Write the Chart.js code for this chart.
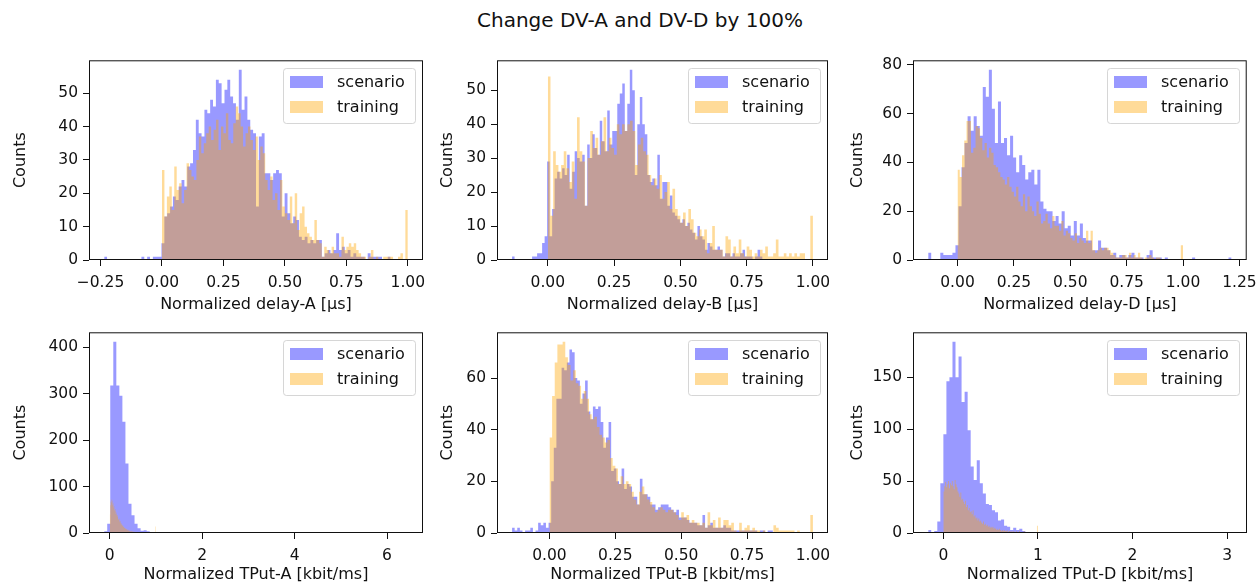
<!DOCTYPE html>
<html>
<head>
<meta charset="utf-8">
<script src="https://cdn.jsdelivr.net/npm/chart.js@4.4.0/dist/chart.umd.min.js"></script>
<style>
  html, body { margin: 0; padding: 0; background: #fff; }
  body { width: 1258px; height: 584px; position: relative; overflow: hidden; font-family: 'DejaVu Sans', sans-serif; }
  #suptitle { position: absolute; top: 8px; left: 0; width: 1280px; line-height: 24px; text-align: center; font-size: 20px; color: #111; }
  canvas { position: absolute; }
</style>
</head>
<body>
<div id="suptitle">Change DV-A and DV-D by 100%</div>
<canvas id="delayA"></canvas>
<canvas id="delayB"></canvas>
<canvas id="delayD"></canvas>
<canvas id="tputA"></canvas>
<canvas id="tputB"></canvas>
<canvas id="tputD"></canvas>
<script>
// Histogram counts per bin, 100 equal bins over each series' range.
const trainingRange = [0, 1];

const delayAScenarioRange = [-0.235, 0.93];
const delayAScenario = [
  1, 0, 0, 0, 0, 0, 0, 0, 0, 0,
  0, 0, 0, 1, 0, 1, 0, 1, 1, 1,
  5, 13, 14, 16, 19, 18, 22, 24, 22, 28,
  29, 33, 42, 38, 37, 45, 44, 48, 46, 54,
  53, 47, 51, 54, 49, 47, 42, 57, 45, 49,
  42, 39, 38, 16, 37, 38, 26, 26, 24, 26,
  27, 26, 13, 20, 14, 11, 13, 12, 7, 6,
  7, 5, 6, 5, 6, 6, 1, 2, 3, 2,
  3, 8, 3, 4, 2, 3, 1, 2, 1, 1,
  1, 0, 2, 1, 1, 1, 1, 0, 0, 1
];
const delayATraining = [
  27, 13, 19, 22, 15, 28, 21, 23, 17, 21,
  29, 27, 25, 24, 30, 37, 32, 35, 38, 40,
  36, 39, 42, 33, 40, 38, 44, 36, 35, 41,
  46, 44, 40, 34, 38, 40, 36, 33, 37, 30,
  34, 32, 24, 21, 25, 18, 20, 15, 24, 16,
  14, 12, 19, 11, 20, 9, 14, 16, 10, 8,
  7, 6, 12, 6, 5, 1, 4, 3, 2, 4,
  2, 2, 1, 7, 3, 4, 5, 4, 5, 3,
  2, 1, 1, 0, 1, 3, 0, 1, 0, 0,
  1, 1, 1, 1, 0, 0, 1, 2, 0, 15
];

const delayBScenarioRange = [-0.135, 0.81];
const delayBScenario = [
  1, 0, 0, 0, 0, 0, 0, 0, 1, 1,
  2, 2, 5, 7, 29, 7, 15, 24, 26, 24,
  27, 25, 31, 21, 26, 32, 30, 29, 31, 16,
  34, 30, 37, 33, 31, 41, 35, 32, 44, 34,
  38, 38, 46, 49, 52, 38, 46, 56, 50, 25,
  40, 48, 40, 37, 25, 23, 24, 22, 31, 18,
  23, 23, 16, 19, 14, 13, 12, 11, 12, 10,
  11, 9, 8, 6, 10, 7, 6, 3, 5, 4,
  3, 3, 4, 3, 1, 2, 2, 1, 2, 1,
  1, 2, 3, 1, 1, 1, 0, 1, 3, 1
];
const delayBTraining = [
  54, 13, 32, 28, 26, 28, 32, 27, 23, 29,
  18, 42, 32, 29, 16, 30, 38, 33, 36, 31,
  35, 42, 32, 36, 33, 31, 40, 37, 40, 38,
  40, 41, 38, 28, 34, 36, 32, 31, 25, 22,
  24, 21, 25, 18, 20, 23, 15, 21, 15, 13,
  11, 14, 10, 15, 12, 8, 7, 9, 7, 9,
  2, 5, 10, 3, 3, 3, 1, 7, 6, 1,
  4, 2, 6, 2, 1, 4, 3, 1, 2, 1,
  3, 2, 4, 1, 1, 2, 6, 1, 1, 2,
  1, 2, 1, 2, 1, 2, 2, 0, 0, 13
];

const delayDScenarioRange = [-0.13, 1.215];
const delayDScenario = [
  3, 0, 0, 0, 3, 2, 2, 2, 3, 6,
  22, 38, 48, 59, 53, 59, 55, 51, 71, 67,
  78, 62, 48, 65, 48, 50, 43, 51, 42, 36,
  43, 39, 33, 36, 37, 31, 37, 24, 21, 20,
  20, 16, 18, 15, 20, 13, 14, 10, 16, 10,
  15, 9, 8, 8, 4, 4, 8, 5, 5, 4,
  2, 3, 1, 2, 2, 1, 2, 3, 1, 1,
  1, 0, 2, 4, 1, 1, 1, 0, 1, 0,
  0, 0, 0, 0, 0, 0, 0, 1, 0, 0,
  0, 0, 0, 0, 0, 0, 0, 0, 0, 1
];
const delayDTraining = [
  37, 34, 43, 49, 57, 57, 44, 46, 55, 54,
  50, 45, 48, 42, 46, 44, 39, 38, 36, 34,
  33, 31, 34, 30, 28, 26, 30, 24, 22, 27,
  20, 26, 22, 20, 18, 24, 19, 15, 16, 19,
  15, 13, 18, 14, 14, 12, 16, 10, 12, 11,
  9, 8, 11, 7, 9, 8, 7, 12, 7, 12,
  4, 3, 4, 5, 4, 5, 5, 4, 3, 2,
  1, 1, 1, 2, 2, 1, 3, 1, 2, 1,
  3, 1, 0, 1, 1, 2, 1, 0, 1, 1,
  0, 0, 0, 0, 0, 0, 0, 0, 0, 6
];

const tputAScenarioRange = [-0.12, 6.45];
const tputAScenario = [
  4, 20, 318, 412, 318, 296, 240, 150, 63, 38,
  20, 10, 5, 6, 4, 2, 1, 0, 0, 0,
  0, 0, 0, 0, 0, 0, 0, 0, 0, 0,
  0, 0, 0, 0, 0, 0, 0, 0, 0, 0,
  0, 0, 0, 0, 0, 0, 0, 0, 0, 0,
  0, 0, 0, 0, 0, 0, 0, 0, 0, 0,
  0, 0, 0, 0, 0, 0, 0, 0, 0, 0,
  0, 0, 0, 0, 0, 0, 0, 0, 0, 0,
  0, 0, 0, 0, 0, 0, 0, 0, 0, 0,
  0, 0, 0, 0, 0, 0, 0, 0, 0, 1
];
const tputATraining = [
  40, 60, 68, 72, 66, 70, 61, 64, 55, 58,
  50, 47, 52, 41, 44, 38, 35, 39, 30, 28,
  31, 25, 22, 26, 19, 21, 17, 15, 18, 13,
  14, 11, 12, 9, 10, 8, 9, 7, 6, 8,
  5, 6, 4, 5, 4, 3, 5, 3, 2, 4,
  3, 2, 3, 2, 1, 2, 2, 1, 2, 1,
  1, 2, 1, 0, 1, 1, 0, 1, 1, 0,
  1, 0, 1, 0, 1, 0, 0, 1, 0, 1,
  0, 0, 1, 0, 0, 1, 0, 0, 0, 1,
  0, 0, 0, 0, 1, 0, 0, 0, 0, 14
];

const tputBScenarioRange = [-0.142, 0.848];
const tputBScenario = [
  2, 1, 2, 1, 0, 1, 1, 2, 0, 1,
  4, 3, 4, 2, 4, 20, 33, 52, 52, 64,
  63, 66, 71, 70, 60, 59, 50, 54, 59, 47,
  44, 49, 48, 49, 43, 33, 37, 43, 24, 25,
  20, 19, 25, 17, 19, 18, 14, 14, 11, 21,
  15, 15, 14, 11, 11, 9, 10, 11, 11, 11,
  10, 9, 8, 9, 6, 6, 6, 5, 4, 4,
  4, 3, 3, 7, 2, 3, 4, 2, 2, 2,
  2, 3, 2, 2, 1, 1, 1, 1, 1, 1,
  1, 1, 1, 1, 0, 1, 1, 0, 1, 1
];
const tputBTraining = [
  37, 53, 66, 73, 73, 74, 68, 65, 59, 63,
  58, 57, 52, 55, 52, 46, 44, 45, 41, 38,
  37, 35, 36, 29, 26, 25, 19, 22, 19, 20,
  19, 16, 13, 11, 16, 18, 15, 13, 12, 10,
  8, 9, 10, 9, 8, 9, 9, 8, 7, 5,
  8, 6, 7, 4, 5, 4, 4, 3, 4, 2,
  8, 3, 5, 2, 6, 2, 5, 5, 3, 4,
  1, 0, 4, 1, 2, 3, 1, 2, 1, 1,
  0, 1, 0, 0, 0, 3, 2, 1, 1, 1,
  1, 1, 1, 0, 1, 0, 0, 0, 0, 7
];

const tputDScenarioRange = [-0.16, 3.05];
const tputDScenario = [
  3, 1, 2, 11, 48, 95, 146, 150, 184, 150,
  170, 126, 136, 99, 64, 51, 70, 48, 38, 28,
  27, 22, 20, 12, 13, 7, 6, 3, 5, 3,
  4, 2, 1, 1, 1, 0, 1, 0, 0, 0,
  0, 0, 0, 0, 0, 0, 0, 0, 0, 0,
  0, 0, 0, 0, 0, 0, 0, 0, 0, 0,
  0, 0, 0, 0, 0, 0, 0, 0, 0, 0,
  0, 0, 0, 0, 0, 0, 0, 0, 0, 0,
  0, 0, 0, 0, 0, 0, 0, 0, 0, 0,
  0, 0, 0, 0, 0, 0, 0, 0, 0, 1
];
const tputDTraining = [
  40, 45, 49, 44, 47, 50, 43, 48, 46, 50,
  45, 42, 51, 47, 44, 40, 38, 35, 39, 32,
  33, 30, 28, 31, 25, 27, 22, 24, 20, 21,
  18, 22, 16, 17, 14, 15, 12, 14, 11, 12,
  10, 9, 11, 8, 9, 7, 8, 6, 7, 5,
  6, 5, 6, 4, 5, 4, 3, 4, 3, 4,
  3, 2, 3, 2, 3, 2, 2, 3, 1, 2,
  2, 1, 2, 1, 2, 1, 1, 2, 1, 1,
  2, 1, 0, 1, 1, 2, 0, 1, 1, 0,
  1, 1, 0, 1, 0, 1, 0, 1, 0, 7
];

// Tick positions
const delayATicksX = [-0.25, 0, 0.25, 0.5, 0.75, 1];
const delayBTicksX = [0, 0.25, 0.5, 0.75, 1];
const delayDTicksX = [0, 0.25, 0.5, 0.75, 1, 1.25];
const tputATicksX = [0, 2, 4, 6];
const tputBTicksX = [0, 0.25, 0.5, 0.75, 1];
const tputDTicksX = [0, 1, 2, 3];
const delayATicksY = [0, 10, 20, 30, 40, 50];
const delayBTicksY = [0, 10, 20, 30, 40, 50];
const delayDTicksY = [0, 20, 40, 60, 80];
const tputATicksY = [0, 100, 200, 300, 400];
const tputBTicksY = [0, 20, 40, 60];
const tputDTicksY = [0, 50, 100, 150];

const seriesNames = ['scenario', 'training'];

const BLUE = 'rgba(0, 0, 255, 0.4)';
const ORANGE = 'rgba(255, 165, 0, 0.4)';
const INK = '#111';
const FONT = 'DejaVu Sans';

// space around each plot box inside its canvas
const GUTTER_L = 80, GUTTER_T = 8, GUTTER_R = 14, GUTTER_B = 52;

// box = [left, top, width, height] of the plot area on the page
const panels = [
  { id: 'delayA', box: [89, 60, 334, 200], sc: delayAScenario, scRange: delayAScenarioRange, tr: delayATraining,
    xTicks: delayATicksX, yTicks: delayATicksY, digits: 2, xLabel: 'Normalized delay-A [μs]', yLabelX: 21, xLabelPad: -2 },
  { id: 'delayB', box: [497, 60, 331, 200], sc: delayBScenario, scRange: delayBScenarioRange, tr: delayBTraining,
    xTicks: delayBTicksX, yTicks: delayBTicksY, digits: 2, xLabel: 'Normalized delay-B [μs]', yLabelX: 448, xLabelPad: -2 },
  { id: 'delayD', box: [913, 60, 334, 200], sc: delayDScenario, scRange: delayDScenarioRange, tr: delayDTraining,
    xTicks: delayDTicksX, yTicks: delayDTicksY, digits: 2, xLabel: 'Normalized delay-D [μs]', yLabelX: 858, xLabelPad: -2 },
  { id: 'tputA', box: [89, 332, 334, 201], sc: tputAScenario, scRange: tputAScenarioRange, tr: tputATraining,
    xTicks: tputATicksX, yTicks: tputATicksY, digits: 0, xLabel: 'Normalized TPut-A [kbit/ms]', yLabelX: 21, xLabelPad: 1 },
  { id: 'tputB', box: [497, 332, 331, 201], sc: tputBScenario, scRange: tputBScenarioRange, tr: tputBTraining,
    xTicks: tputBTicksX, yTicks: tputBTicksY, digits: 2, xLabel: 'Normalized TPut-B [kbit/ms]', yLabelX: 448, xLabelPad: 1 },
  { id: 'tputD', box: [913, 332, 334, 201], sc: tputDScenario, scRange: tputDScenarioRange, tr: tputDTraining,
    xTicks: tputDTicksX, yTicks: tputDTicksY, digits: 0, xLabel: 'Normalized TPut-D [kbit/ms]', yLabelX: 858, xLabelPad: 1 }
];

// bin edges -> stepped outline points, closing back to zero after the last bin
function histPoints(counts, range) {
  const width = (range[1] - range[0]) / counts.length;
  const pts = counts.map((c, i) => ({ x: range[0] + i * width, y: c }));
  pts.push({ x: range[1], y: 0 });
  return pts;
}

function tickText(v, digits) {
  const s = Math.abs(v).toFixed(digits);
  return v < 0 ? '\u2212' + s : s;
}

// full box around the plot area (matplotlib spines)
const framePlugin = {
  id: 'frame',
  afterDatasetsDraw(chart) {
    const { ctx, chartArea: a } = chart;
    ctx.save();
    ctx.strokeStyle = INK;
    ctx.lineWidth = 1;
    ctx.strokeRect(a.left + 0.5, a.top + 0.5, a.right - a.left - 1, a.bottom - a.top - 1);
    ctx.restore();
  }
};

// legend box in the upper right corner
const legendPlugin = {
  id: 'cornerLegend',
  afterDraw(chart) {
    const { ctx, chartArea: a } = chart;
    const w = 132, h = 55;
    const x = Math.round(a.right - 8 - w), y = Math.round(a.top + 8);
    ctx.save();
    ctx.beginPath();
    if (ctx.roundRect) ctx.roundRect(x + 0.5, y + 0.5, w, h, 3);
    else ctx.rect(x + 0.5, y + 0.5, w, h);
    ctx.fillStyle = 'rgba(255, 255, 255, 0.8)';
    ctx.fill();
    ctx.strokeStyle = 'rgba(204, 204, 204, 0.8)';
    ctx.lineWidth = 1;
    ctx.stroke();
    ctx.font = '16px "' + FONT + '"';
    ctx.textBaseline = 'middle';
    chart.data.datasets.forEach((ds, i) => {
      const cy = y + 14 + i * 25;
      ctx.fillStyle = ds.backgroundColor;
      ctx.fillRect(x + 7, cy - 6, 33, 12);
      ctx.fillStyle = INK;
      ctx.fillText(ds.label, x + 54, cy + 1);
    });
    ctx.restore();
  }
};

function chartConfig(p) {
  const [left] = p.box;
  const lo = Math.min(p.scRange[0], trainingRange[0]);
  const hi = Math.max(p.scRange[1], trainingRange[1]);
  const margin = (hi - lo) * 0.05;
  const peak = Math.max(...p.sc, ...p.tr);
  const tickFont = { family: FONT, size: 15.5 };
  const labelFont = { family: FONT, size: 16, lineHeight: 1.2 };
  const tickGrid = { display: true, drawOnChartArea: false, drawTicks: true, tickLength: 6, tickWidth: 1, tickColor: INK };

  return {
    type: 'line',
    data: {
      datasets: [
        { label: seriesNames[0], data: histPoints(p.sc, p.scRange), backgroundColor: BLUE, order: 2 },
        { label: seriesNames[1], data: histPoints(p.tr, trainingRange), backgroundColor: ORANGE, order: 1 }
      ].map(ds => Object.assign(ds, {
        fill: 'origin', stepped: true, borderWidth: 0, borderColor: 'transparent', pointRadius: 0
      }))
    },
    options: {
      responsive: false,
      animation: false,
      devicePixelRatio: 1,
      events: [],
      layout: { padding: { top: GUTTER_T, right: GUTTER_R, left: 0, bottom: 0 } },
      plugins: { legend: { display: false }, tooltip: { enabled: false } },
      scales: {
        x: {
          type: 'linear',
          min: lo - margin,
          max: hi + margin,
          afterBuildTicks: s => { s.ticks = p.xTicks.map(v => ({ value: v })); },
          afterFit: s => { s.height = GUTTER_B; },
          ticks: { autoSkip: false, maxRotation: 0, padding: 8, color: INK, font: tickFont,
                   callback: v => tickText(v, p.digits) },
          grid: tickGrid,
          border: { display: false },
          title: { display: true, text: p.xLabel, color: INK, font: labelFont,
                   padding: { top: 0, bottom: p.xLabelPad } }
        },
        y: {
          type: 'linear',
          min: 0,
          max: peak * 1.05,
          afterBuildTicks: s => { s.ticks = p.yTicks.map(v => ({ value: v })); },
          afterFit: s => { s.width = GUTTER_L; },
          ticks: { padding: 5, color: INK, font: tickFont, callback: v => String(v) },
          grid: tickGrid,
          border: { display: false },
          title: { display: true, text: 'Counts', color: INK, font: labelFont,
                   padding: { top: p.yLabelX - (left - GUTTER_L) - 9.6, bottom: 0 } }
        }
      }
    },
    plugins: [framePlugin, legendPlugin]
  };
}

function drawPanel(p) {
  const [left, top, w, h] = p.box;
  const canvas = document.getElementById(p.id);
  let cw = w + GUTTER_L + GUTTER_R, ch = h + GUTTER_T + GUTTER_B;
  canvas.width = cw; canvas.height = ch;
  let chart = new Chart(canvas, chartConfig(p));

  // Chart.js reserves some extra room for tick labels; measure it and
  // rebuild once so the plot box sits exactly where it should.
  const a = chart.chartArea;
  cw += w - (a.right - a.left);
  ch += h - (a.bottom - a.top);
  chart.destroy();
  canvas.width = cw; canvas.height = ch;
  chart = new Chart(canvas, chartConfig(p));
  const b = chart.chartArea;
  canvas.style.left = (left - b.left) + 'px';
  canvas.style.top = (top - b.top) + 'px';
}

panels.forEach(drawPanel);
</script>
</body>
</html>
